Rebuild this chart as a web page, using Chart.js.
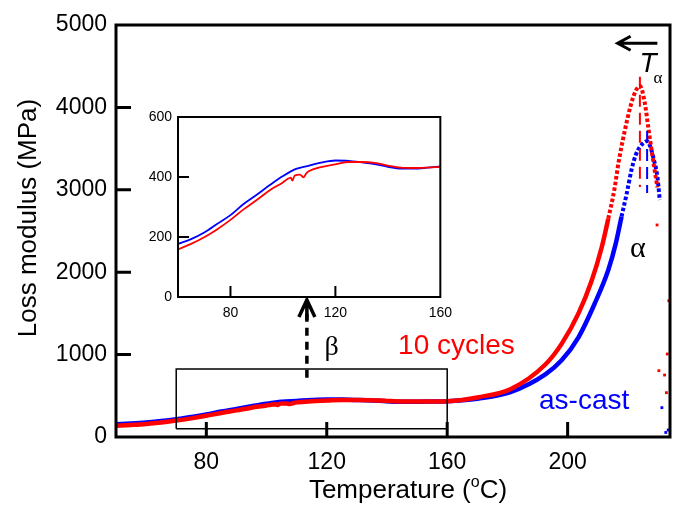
<!DOCTYPE html>
<html>
<head>
<meta charset="utf-8">
<script src="https://cdn.jsdelivr.net/npm/chart.js@4.4.0/dist/chart.umd.min.js"></script>
<style>
    body { margin: 0; background: #fff; }
    #wrap { position: relative; width: 674px; height: 510px; }
    #mainChart { position: absolute; left: 0; top: 0; }
    #insetChart { position: absolute; left: 130px; top: 100px; }
</style>
</head>
<body>
<div id="wrap">
    <canvas id="mainChart" width="674" height="510"></canvas>
    <canvas id="insetChart" width="330" height="230"></canvas>
</div>
<script>
// Loss modulus vs temperature, as-cast (blue) and 10 cycles (red)

// below the inset range
const castStartT = [50, 55];
const castStartV = [155, 165];
const cycStartT = [50, 55];
const cycStartV = [135, 146];

// beta region (also shown in the inset)
const castLowT = [60, 65, 70, 75, 80, 85, 90, 95, 100, 105, 110, 115, 120, 125, 130, 135, 140, 145, 150, 155, 160];
const castLowV = [177, 193, 215, 244, 273, 310, 341, 373, 403, 427, 438, 449, 455, 454, 449, 443, 434, 428, 428, 431, 435];
const cycLowT = [60, 65, 70, 75, 80, 85, 90, 95, 100, 101.5, 103, 103.6, 104.5, 106.5, 107.8, 109, 110, 115, 120, 125, 130, 135, 140, 145, 150, 155, 160];
const cycLowV = [159, 177, 199, 226, 257, 292, 323, 356, 382, 392, 398, 388, 405, 408, 399, 413, 420, 434, 442, 450, 450, 447, 438, 431, 430, 431, 434];

// alpha peak
const castHighT = [165, 170, 181, 192.6, 198, 203.6, 209, 213.5, 216, 217.9, 219.6, 221.2, 222.6, 224, 226.4, 227.5, 228.4, 229.8, 230.6];
const castHighV = [445, 465, 545, 760, 930, 1210, 1620, 2027, 2350, 2674, 2950, 3240, 3420, 3520, 3590, 3520, 3400, 3160, 2876];
const cycHighT = [165, 170, 181, 192.6, 198, 203.6, 208, 211.3, 213.5, 215.5, 217, 219, 221, 222.6, 224, 225.6, 226.7, 227.8, 228.9, 229.8];
const cycHighV = [450, 480, 580, 880, 1130, 1500, 1900, 2300, 2650, 3000, 3350, 3720, 4030, 4200, 4260, 4060, 3780, 3500, 3240, 3030];

// loose points after the peak
const castScatT = [231.3, 232.6, 233.4];
const castScatV = [356, 55, 85];
const cycScatT = [229.7, 233.6, 233.1, 230.3, 232.2, 232.8];
const cycScatV = [2573, 1654, 1007, 805, 752, 538];

// T alpha marker lines
const peakT = [224, 226.4];
const peakTop = [4373, 3714];
const peakBottom = [3034, 2961];

// zoom box drawn on the main plot
const boxT = [70, 160];
const boxV = [100, 825];

const mainXTicks = [80, 120, 160, 200];
const mainYTicks = [0, 1000, 2000, 3000, 4000, 5000];
const insetXTicks = [80, 120, 160];
const insetYTicks = [0, 200, 400, 600];

const RED = '#ff0000';
const BLUE = '#0000ff';
const FONT = '"Liberation Sans", Arial, sans-serif';
const SERIF = '"Liberation Serif", "Times New Roman", serif';

function pts(xs, ys) {
    return xs.map((x, i) => ({ x: x, y: ys[i] }));
}

const castMain = pts(castStartT.concat(castLowT, castHighT), castStartV.concat(castLowV, castHighV));
const cycMain = pts(cycStartT.concat(cycLowT, cycHighT), cycStartV.concat(cycLowV, cycHighV));

// steep part of the peak looks dotted in the original
function dottedFrom(t) {
    return {
        borderDash: c => c.p0.parsed.x >= t ? [3.5, 2.2] : undefined,
        borderWidth: c => c.p0.parsed.x >= t ? 4 : undefined
    };
}

// frame + inward ticks
function frameTicks(chart, xTicks, yTicks, len, width) {
    const ctx = chart.ctx;
    const a = chart.chartArea;
    const xs = chart.scales.x, ys = chart.scales.y;
    ctx.save();
    ctx.strokeStyle = '#000';
    ctx.lineWidth = width;
    ctx.strokeRect(a.left, a.top, a.right - a.left, a.bottom - a.top);
    ctx.beginPath();
    xTicks.forEach(v => {
        const px = xs.getPixelForValue(v);
        if (px > a.left + 2 && px < a.right - 2) {
            ctx.moveTo(px, a.bottom);
            ctx.lineTo(px, a.bottom - len);
        }
    });
    yTicks.forEach(v => {
        const py = ys.getPixelForValue(v);
        if (py > a.top + 2 && py < a.bottom - 2) {
            ctx.moveTo(a.left, py);
            ctx.lineTo(a.left + len, py);
        }
    });
    ctx.stroke();
    ctx.restore();
}

const mainDecor = {
    id: 'mainDecor',
    afterDatasetsDraw(chart) {
        const ctx = chart.ctx;
        const xs = chart.scales.x, ys = chart.scales.y;
        const X = v => xs.getPixelForValue(v);
        const Y = v => ys.getPixelForValue(v);
        frameTicks(chart, mainXTicks, mainYTicks, 15, 3);

        ctx.save();
        // dashed arrow from the box up to the inset
        const ax = X(113.4);
        ctx.strokeStyle = '#000';
        ctx.lineWidth = 3.5;
        ctx.setLineDash([8, 6]);
        ctx.beginPath();
        ctx.moveTo(ax, Y(720));
        ctx.lineTo(ax, Y(1600));
        ctx.stroke();
        ctx.setLineDash([]);
        const tipY = Y(1663);
        ctx.beginPath();
        ctx.moveTo(ax - 8, tipY + 17);
        ctx.lineTo(ax, tipY);
        ctx.lineTo(ax + 8, tipY + 17);
        ctx.moveTo(ax, tipY + 2);
        ctx.lineTo(ax, tipY + 20);
        ctx.stroke();

        // arrow pointing left above T alpha
        const hy = Y(4778);
        const tipX = X(216.6);
        ctx.lineWidth = 3;
        ctx.beginPath();
        ctx.moveTo(X(229.8), hy);
        ctx.lineTo(tipX + 2, hy);
        ctx.moveTo(tipX + 13, hy - 7);
        ctx.lineTo(tipX, hy);
        ctx.lineTo(tipX + 13, hy + 7);
        ctx.stroke();

        // labels
        ctx.fillStyle = '#000';
        ctx.textBaseline = 'alphabetic';
        ctx.textAlign = 'center';
        ctx.font = '28px ' + SERIF;
        ctx.fillText('β', X(121.6), Y(995));
        ctx.font = '30px ' + SERIF;
        ctx.fillText('α', X(223.3), Y(2188));
        ctx.textAlign = 'left';
        ctx.font = 'italic 28px ' + FONT;
        ctx.fillText('T', X(223.9), Y(4433));
        ctx.font = '17px ' + SERIF;
        ctx.fillText('α', X(228.5), Y(4296));
        ctx.font = '28px ' + FONT;
        ctx.fillStyle = RED;
        ctx.fillText('10 cycles', X(143.7), Y(1007));
        ctx.fillStyle = BLUE;
        ctx.fillText('as-cast', X(190.5), Y(336));

        // axis titles
        ctx.fillStyle = '#000';
        ctx.font = '26px ' + FONT;
        const t1 = 'Temperature (', t2 = 'o', t3 = 'C)';
        const w1 = ctx.measureText(t1).width, w3 = ctx.measureText(t3).width;
        ctx.font = '16px ' + FONT;
        const w2 = ctx.measureText(t2).width;
        let tx = 408 - (w1 + w2 + w3) / 2;
        const ty = 498;
        ctx.font = '26px ' + FONT;
        ctx.fillText(t1, tx, ty);
        ctx.font = '16px ' + FONT;
        ctx.fillText(t2, tx + w1, ty - 11);
        ctx.font = '26px ' + FONT;
        ctx.fillText(t3, tx + w1 + w2, ty);

        ctx.translate(29, 218);
        ctx.rotate(-Math.PI / 2);
        ctx.textAlign = 'center';
        ctx.textBaseline = 'middle';
        ctx.font = '26px ' + FONT;
        ctx.fillText('Loss modulus (MPa)', 0, 0);
        ctx.restore();
    }
};

const insetDecor = {
    id: 'insetDecor',
    afterDatasetsDraw(chart) {
        frameTicks(chart, insetXTicks, insetYTicks, 11, 2);
    }
};

function lineSet(data, color, width, extra) {
    return Object.assign({
        data: data,
        borderColor: color,
        backgroundColor: color,
        borderWidth: width,
        pointRadius: 0,
        fill: false,
        cubicInterpolationMode: 'monotone'
    }, extra || {});
}

function scatterSet(data, color) {
    return {
        data: data,
        showLine: false,
        pointStyle: 'rect',
        pointRadius: 2,
        borderWidth: 0,
        backgroundColor: color,
        borderColor: color
    };
}

const boxPts = [
    { x: boxT[0], y: boxV[0] }, { x: boxT[1], y: boxV[0] },
    { x: boxT[1], y: boxV[1] }, { x: boxT[0], y: boxV[1] }, { x: boxT[0], y: boxV[0] }
];

const plainNum = v => String(v);

new Chart(document.getElementById('mainChart'), {
    type: 'line',
    data: {
        datasets: [
            lineSet(boxPts, '#000', 1.5, { tension: 0, cubicInterpolationMode: 'default' }),
            lineSet([{ x: peakT[0], y: peakTop[0] }, { x: peakT[0], y: peakBottom[0] }], RED, 2, { borderDash: [12, 6], cubicInterpolationMode: 'default' }),
            lineSet([{ x: peakT[1], y: peakTop[1] }, { x: peakT[1], y: peakBottom[1] }], BLUE, 2, { borderDash: [12, 6], cubicInterpolationMode: 'default' }),
            lineSet(cycMain, RED, 4.5, { segment: dottedFrom(213.5) }),
            lineSet(castMain, BLUE, 4.5, { segment: dottedFrom(216.5) }),
            scatterSet(pts(cycScatT, cycScatV), RED),
            scatterSet(pts(castScatT, castScatV), BLUE)
        ]
    },
    options: {
        responsive: false,
        animation: false,
        devicePixelRatio: 1,
        layout: { padding: { left: 0, top: 25, right: 2, bottom: 0 } },
        plugins: { legend: { display: false }, tooltip: { enabled: false } },
        scales: {
            x: {
                type: 'linear',
                min: 50,
                max: 234,
                grid: { display: false, drawTicks: false },
                border: { display: false },
                afterBuildTicks: s => { s.ticks = mainXTicks.map(v => ({ value: v })); },
                afterFit: s => { s.height = 73; },
                ticks: { color: '#000', padding: 12, maxRotation: 0, callback: plainNum, font: { family: FONT, size: 23 } }
            },
            y: {
                type: 'linear',
                min: 0,
                max: 5000,
                grid: { display: false, drawTicks: false },
                border: { display: false },
                afterBuildTicks: s => { s.ticks = mainYTicks.map(v => ({ value: v })); },
                afterFit: s => { s.width = 116; },
                ticks: { color: '#000', padding: 9, callback: plainNum, font: { family: FONT, size: 23 } }
            }
        }
    },
    plugins: [mainDecor]
});

new Chart(document.getElementById('insetChart'), {
    type: 'line',
    data: {
        datasets: [
            lineSet(pts(cycLowT, cycLowV), RED, 1.8),
            lineSet(pts(castLowT, castLowV), BLUE, 1.8)
        ]
    },
    options: {
        responsive: false,
        animation: false,
        devicePixelRatio: 1,
        layout: { padding: { left: 0, top: 17, right: 15, bottom: 0 } },
        plugins: { legend: { display: false }, tooltip: { enabled: false } },
        scales: {
            x: {
                type: 'linear',
                min: 60,
                max: 160,
                grid: { display: false, drawTicks: false },
                border: { display: false },
                afterBuildTicks: s => { s.ticks = insetXTicks.map(v => ({ value: v })); },
                afterFit: s => { s.height = 33; },
                ticks: { color: '#000', padding: 8, maxRotation: 0, callback: plainNum, font: { family: FONT, size: 14 } }
            },
            y: {
                type: 'linear',
                min: 0,
                max: 600,
                grid: { display: false, drawTicks: false },
                border: { display: false },
                afterBuildTicks: s => { s.ticks = insetYTicks.map(v => ({ value: v })); },
                afterFit: s => { s.width = 48; },
                ticks: { color: '#000', padding: 6, callback: plainNum, font: { family: FONT, size: 14 } }
            }
        }
    },
    plugins: [insetDecor]
});
</script>
</body>
</html>
